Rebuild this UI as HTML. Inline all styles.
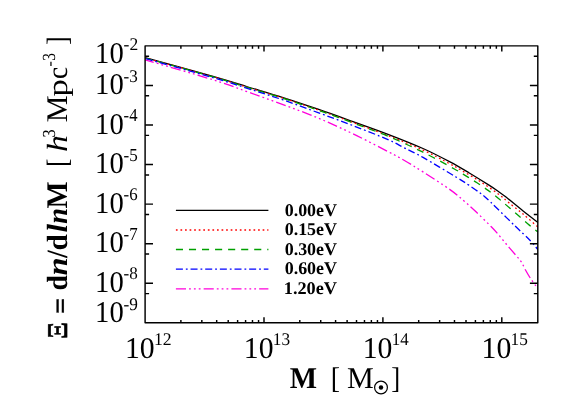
<!DOCTYPE html>
<html><head><meta charset="utf-8"><title>Mass function</title>
<style>
html,body{margin:0;padding:0;background:#fff;}
body{width:581px;height:415px;overflow:hidden;font-family:"Liberation Serif",serif;}
svg{will-change:transform;}
svg text{font-family:"Liberation Serif",serif;}
</style></head><body>
<svg width="581" height="415" viewBox="0 0 581 415" style="display:block">
<defs><clipPath id="cp"><rect x="145.10" y="45.85" width="393.30" height="276.95"/></clipPath></defs>
<g fill="none" stroke-width="1.30" clip-path="url(#cp)">
<path d="M145.10 57.70 C156.42 60.82 195.85 71.52 213.00 76.40 C230.15 81.28 236.33 83.47 248.00 87.00 C259.67 90.53 271.33 93.90 283.00 97.60 C294.67 101.30 306.33 105.20 318.00 109.20 C329.67 113.20 341.33 117.42 353.00 121.60 C364.67 125.78 376.33 129.82 388.00 134.30 C399.67 138.78 412.67 143.90 423.00 148.50 C433.33 153.10 442.28 157.82 450.00 161.90 C457.72 165.98 462.87 169.17 469.30 173.00 C475.73 176.83 483.78 181.85 488.60 184.90 C493.42 187.95 495.30 189.27 498.20 191.30 C501.10 193.33 501.85 193.83 506.00 197.10 C510.15 200.37 517.78 206.65 523.10 210.90 C528.42 215.15 535.43 220.65 537.90 222.60" stroke="#000000"/>
<path d="M145.10 57.80 C156.42 60.95 195.85 71.77 213.00 76.70 C230.15 81.63 236.33 83.83 248.00 87.40 C259.67 90.97 271.33 94.35 283.00 98.10 C294.67 101.85 306.33 105.83 318.00 109.90 C329.67 113.97 341.33 118.22 353.00 122.50 C364.67 126.78 376.33 131.00 388.00 135.60 C399.67 140.20 412.67 145.38 423.00 150.10 C433.33 154.82 443.90 160.70 450.00 163.90 C456.10 167.10 454.70 166.45 459.60 169.30 C464.50 172.15 472.97 176.90 479.40 181.00 C485.83 185.10 493.33 190.32 498.20 193.90 C503.07 197.48 504.45 199.13 508.60 202.50 C512.75 205.87 518.22 210.02 523.10 214.10 C527.98 218.18 535.43 224.85 537.90 227.00" stroke="#ff0000" stroke-dasharray="1.7 2.865" stroke-dashoffset="4.06"/>
<path d="M145.10 58.00 C156.42 61.15 195.85 71.97 213.00 76.90 C230.15 81.83 236.33 84.03 248.00 87.60 C259.67 91.17 271.33 94.55 283.00 98.30 C294.67 102.05 306.33 106.00 318.00 110.10 C329.67 114.20 341.33 118.55 353.00 122.90 C364.67 127.25 376.33 131.32 388.00 136.20 C399.67 141.08 411.87 146.70 423.00 152.20 C434.13 157.70 447.65 165.25 454.80 169.20 C461.95 173.15 462.20 173.63 465.90 175.90 C469.60 178.17 473.30 180.38 477.00 182.80 C480.70 185.22 484.57 187.83 488.10 190.40 C491.63 192.97 494.55 195.22 498.20 198.20 C501.85 201.18 505.03 204.00 510.00 208.30 C514.97 212.60 523.35 220.05 528.00 224.00 C532.65 227.95 536.25 230.67 537.90 232.00" stroke="#00a000" stroke-dasharray="7.1 5.95" stroke-dashoffset="13.03"/>
<path d="M145.10 58.50 C156.42 61.68 195.85 72.58 213.00 77.60 C230.15 82.62 236.33 84.88 248.00 88.60 C259.67 92.32 271.33 95.90 283.00 99.90 C294.67 103.90 306.33 108.32 318.00 112.60 C329.67 116.88 341.33 121.10 353.00 125.60 C364.67 130.10 379.50 135.92 388.00 139.60 C396.50 143.28 398.17 144.73 404.00 147.70 C409.83 150.67 414.28 152.48 423.00 157.40 C431.72 162.32 448.67 172.58 456.30 177.20 C463.93 181.82 464.73 182.38 468.80 185.10 C472.87 187.82 477.80 191.35 480.70 193.50 C483.60 195.65 483.53 195.58 486.20 198.00 C488.87 200.42 491.83 203.28 496.70 208.00 C501.57 212.72 509.78 220.85 515.40 226.30 C521.02 231.75 526.65 236.82 530.40 240.70 C534.15 244.58 536.65 248.12 537.90 249.60" stroke="#0000ff" stroke-dasharray="7 2.95 1.8 2.9" stroke-dashoffset="13.86"/>
<path d="M145.10 59.80 C156.42 63.13 195.85 74.43 213.00 79.80 C230.15 85.17 236.33 87.87 248.00 92.00 C259.67 96.13 271.33 100.27 283.00 104.60 C294.67 108.93 306.33 113.13 318.00 118.00 C329.67 122.87 341.33 128.20 353.00 133.80 C364.67 139.40 379.50 147.20 388.00 151.60 C396.50 156.00 398.17 156.82 404.00 160.20 C409.83 163.58 415.33 167.00 423.00 171.90 C430.67 176.80 443.17 184.75 450.00 189.60 C456.83 194.45 459.67 197.30 464.00 201.00 C468.33 204.70 471.45 207.50 476.00 211.80 C480.55 216.10 487.65 223.10 491.30 226.80 C494.95 230.50 495.35 231.05 497.90 234.00 C500.45 236.95 503.60 240.95 506.60 244.50 C509.60 248.05 513.43 252.38 515.90 255.30 C518.37 258.22 519.80 259.55 521.40 262.00 C523.00 264.45 523.93 267.18 525.50 270.00 C527.07 272.82 529.03 276.22 530.80 278.90 C532.57 281.58 534.92 284.55 536.10 286.10 C537.28 287.65 537.60 287.85 537.90 288.20" stroke="#ff00dc" stroke-dasharray="10.1 3.05 1.8 3.05 1.8 3.05 1.8 3.1" stroke-dashoffset="0.94"/>
</g>
<g fill="none" stroke-width="1.45">
<path d="M175.9 210.35 H268.4" stroke="#000000"/>
<path d="M175.9 230.00 H268.4" stroke="#ff0000" stroke-dasharray="1.7 2.865"/>
<path d="M175.9 249.50 H268.4" stroke="#00a000" stroke-dasharray="7.1 5.95"/>
<path d="M175.9 269.10 H268.4" stroke="#0000ff" stroke-dasharray="7 2.95 1.8 2.9"/>
<path d="M175.9 288.85 H268.4" stroke="#ff00dc" stroke-dasharray="10.1 3.05 1.8 3.05 1.8 3.05 1.8 3.1"/>
</g>
<g stroke="#000" stroke-width="1.45" fill="none" stroke-linecap="butt">
<rect x="145.10" y="45.85" width="392.70" height="276.95" stroke-linejoin="round"/>
<path d="M180.89 322.80 v-2.80 M180.89 45.85 v2.80 M201.83 322.80 v-2.80 M201.83 45.85 v2.80 M216.68 322.80 v-2.80 M216.68 45.85 v2.80 M228.21 322.80 v-2.80 M228.21 45.85 v2.80 M237.62 322.80 v-2.80 M237.62 45.85 v2.80 M245.58 322.80 v-2.80 M245.58 45.85 v2.80 M252.48 322.80 v-2.80 M252.48 45.85 v2.80 M258.56 322.80 v-2.80 M258.56 45.85 v2.80 M264.00 322.80 v-5.60 M264.00 45.85 v5.60 M299.79 322.80 v-2.80 M299.79 45.85 v2.80 M320.73 322.80 v-2.80 M320.73 45.85 v2.80 M335.58 322.80 v-2.80 M335.58 45.85 v2.80 M347.11 322.80 v-2.80 M347.11 45.85 v2.80 M356.52 322.80 v-2.80 M356.52 45.85 v2.80 M364.48 322.80 v-2.80 M364.48 45.85 v2.80 M371.38 322.80 v-2.80 M371.38 45.85 v2.80 M377.46 322.80 v-2.80 M377.46 45.85 v2.80 M382.90 322.80 v-5.60 M382.90 45.85 v5.60 M418.69 322.80 v-2.80 M418.69 45.85 v2.80 M439.63 322.80 v-2.80 M439.63 45.85 v2.80 M454.48 322.80 v-2.80 M454.48 45.85 v2.80 M466.01 322.80 v-2.80 M466.01 45.85 v2.80 M475.42 322.80 v-2.80 M475.42 45.85 v2.80 M483.38 322.80 v-2.80 M483.38 45.85 v2.80 M490.28 322.80 v-2.80 M490.28 45.85 v2.80 M496.36 322.80 v-2.80 M496.36 45.85 v2.80 M501.80 322.80 v-5.60 M501.80 45.85 v5.60 M145.10 56.25 h4.00 M537.80 56.25 h-4.00 M145.10 85.41 h7.90 M537.80 85.41 h-7.90 M145.10 95.81 h4.00 M537.80 95.81 h-4.00 M145.10 124.98 h7.90 M537.80 124.98 h-7.90 M145.10 135.38 h4.00 M537.80 135.38 h-4.00 M145.10 164.54 h7.90 M537.80 164.54 h-7.90 M145.10 174.94 h4.00 M537.80 174.94 h-4.00 M145.10 204.11 h7.90 M537.80 204.11 h-7.90 M145.10 214.51 h4.00 M537.80 214.51 h-4.00 M145.10 243.67 h7.90 M537.80 243.67 h-7.90 M145.10 254.07 h4.00 M537.80 254.07 h-4.00 M145.10 283.24 h7.90 M537.80 283.24 h-7.90 M145.10 293.64 h4.00 M537.80 293.64 h-4.00"/>
</g>
<g font-family='"Liberation Serif", serif' fill="#000" text-rendering="geometricPrecision">
<text transform="translate(95.11 62.50) scale(0.9880 1.0397)" font-size="29.00">10</text>
<text transform="translate(123.57 49.90) scale(1.0192 1.0395)" font-size="17.20">-2</text>
<text transform="translate(95.11 94.20) scale(0.9880 1.0397)" font-size="29.00">10</text>
<text transform="translate(123.59 81.60) scale(0.9928 1.0395)" font-size="17.20">-3</text>
<text transform="translate(95.11 133.70) scale(0.9880 1.0397)" font-size="29.00">10</text>
<text transform="translate(123.60 121.10) scale(0.9678 1.0555)" font-size="17.20">-4</text>
<text transform="translate(95.11 173.30) scale(0.9880 1.0397)" font-size="29.00">10</text>
<text transform="translate(123.59 160.70) scale(0.9928 1.0555)" font-size="17.20">-5</text>
<text transform="translate(95.11 212.80) scale(0.9880 1.0397)" font-size="29.00">10</text>
<text transform="translate(123.59 200.20) scale(0.9801 1.0395)" font-size="17.20">-6</text>
<text transform="translate(95.11 252.40) scale(0.9880 1.0397)" font-size="29.00">10</text>
<text transform="translate(123.59 239.80) scale(0.9801 1.0555)" font-size="17.20">-7</text>
<text transform="translate(95.11 291.90) scale(0.9880 1.0397)" font-size="29.00">10</text>
<text transform="translate(123.59 279.30) scale(0.9928 1.0395)" font-size="17.20">-8</text>
<text transform="translate(95.11 322.20) scale(0.9880 1.0397)" font-size="29.00">10</text>
<text transform="translate(123.58 309.60) scale(1.0058 1.0395)" font-size="17.20">-9</text>
<text transform="translate(124.92 357.90) scale(1.0267 1.0397)" font-size="29.00">10</text>
<text transform="translate(153.88 345.30) scale(1.0291 1.0395)" font-size="17.20">12</text>
<text transform="translate(243.82 357.90) scale(1.0267 1.0397)" font-size="29.00">10</text>
<text transform="translate(272.82 345.30) scale(1.0060 1.0395)" font-size="17.20">13</text>
<text transform="translate(362.72 357.90) scale(1.0267 1.0397)" font-size="29.00">10</text>
<text transform="translate(391.75 345.30) scale(0.9839 1.0395)" font-size="17.20">14</text>
<text transform="translate(481.62 357.90) scale(1.0267 1.0397)" font-size="29.00">10</text>
<text transform="translate(510.62 345.30) scale(1.0060 1.0395)" font-size="17.20">15</text>
<text transform="translate(289.71 388.00) scale(0.9830 1.0256)" font-size="29.40" font-weight="bold">M</text>
<text transform="translate(330.85 388.00) scale(0.9465 1.0204)" font-size="29.40">[</text>
<text transform="translate(346.90 388.00) scale(1.0245 1.0256)" font-size="29.40">M</text>
<text transform="translate(391.19 388.00) scale(0.9169 1.0204)" font-size="29.40">]</text>
<text transform="translate(284.66 215.50) scale(1.0264 1.0216)" font-size="17.50" font-weight="bold">0.00eV</text>
<text transform="translate(284.66 235.12) scale(1.0264 1.0216)" font-size="17.50" font-weight="bold">0.15eV</text>
<text transform="translate(284.66 254.74) scale(1.0264 1.0216)" font-size="17.50" font-weight="bold">0.30eV</text>
<text transform="translate(284.66 274.36) scale(1.0264 1.0216)" font-size="17.50" font-weight="bold">0.60eV</text>
<text transform="translate(283.74 293.98) scale(1.0445 1.0216)" font-size="17.50" font-weight="bold">1.20eV</text>
<circle cx="381" cy="387.5" r="6.4" fill="none" stroke="#000" stroke-width="1.2"/>
<circle cx="381" cy="387.5" r="2.2" fill="#000"/>
<g transform="translate(67.40 340) rotate(-90)">
<text transform="translate(1.21 -0.30) scale(0.8755 0.9733)" font-size="29.40" stroke="#000" stroke-width="0.75" stroke-linejoin="miter">Ξ</text>
<text transform="translate(25.98 1.16) scale(0.9566 0.8944)" font-size="29.40" font-weight="bold" stroke="#000" stroke-width="0.45">=</text>
<text transform="translate(49.59 0.00) scale(0.9404 0.9908)" font-size="29.40" font-weight="bold">d</text>
<text transform="translate(64.45 0.00) scale(1.1037 0.9770)" font-size="29.40" font-weight="bold" font-style="italic">n</text>
<text transform="translate(81.88 0.00) scale(0.9524 1.0000)" font-size="29.40" font-weight="bold">/</text>
<text transform="translate(89.52 0.00) scale(1.0004 0.9908)" font-size="29.40" font-weight="bold">d</text>
<text transform="translate(107.49 0.00) scale(1.0335 0.9908)" font-size="29.40" font-weight="bold" font-style="italic">l</text>
<text transform="translate(116.23 0.00) scale(0.9649 0.9770)" font-size="29.40" font-weight="bold" font-style="italic">n</text>
<text transform="translate(131.61 0.00) scale(0.9756 1.0204)" font-size="29.40" font-weight="bold">M</text>
<text transform="translate(173.27 0.00) scale(0.8429 1.0010)" font-size="29.40">[</text>
<text transform="translate(188.09 0.00) scale(1.1470 0.9908)" font-size="29.40" font-style="italic">h</text>
<text transform="translate(202.55 -12.50) scale(0.9465 1.0659)" font-size="17.20">3</text>
<text transform="translate(217.70 0.00) scale(1.0245 1.0204)" font-size="29.40">M</text>
<text transform="translate(243.55 0.00) scale(1.1757 0.9566)" font-size="29.40">p</text>
<text transform="translate(261.08 0.00) scale(0.9245 0.9770)" font-size="29.40">c</text>
<text transform="translate(273.62 -12.90) scale(0.9259 1.0000)" font-size="17.20">-</text>
<text transform="translate(279.29 -12.20) scale(0.8924 1.0747)" font-size="17.20">3</text>
<text transform="translate(295.02 0.00) scale(0.8873 1.0010)" font-size="29.40">]</text>
</g>
</g>
</svg>
</body></html>
